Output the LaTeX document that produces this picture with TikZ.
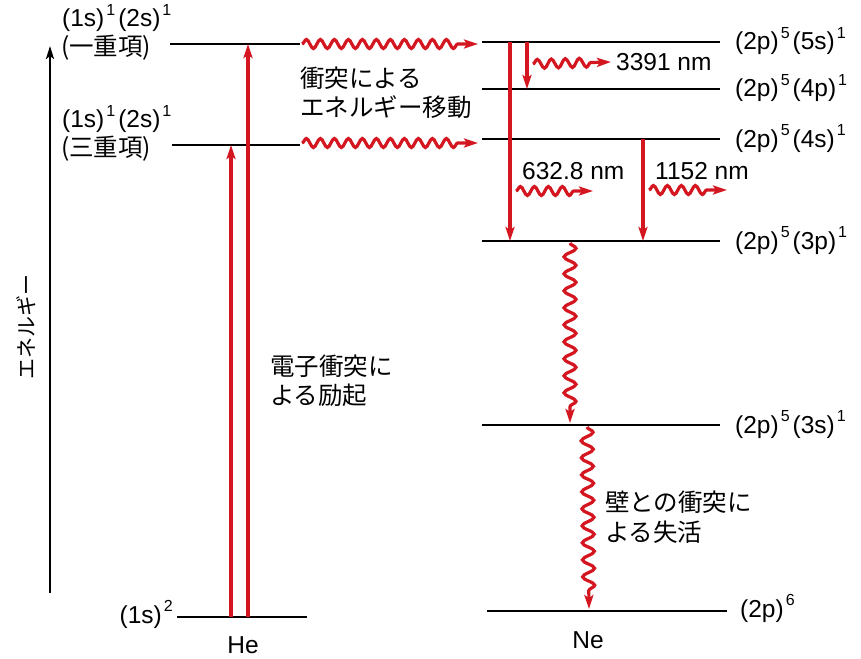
\documentclass[tikz,border=0pt]{standalone}
\usepackage{fontspec}
\setmainfont{Liberation Sans}
\newfontfamily\jp{Noto Sans CJK JP}
\usetikzlibrary{arrows.meta,decorations.pathmorphing}
\definecolor{myred}{RGB}{212,22,32}
\newcommand\su[1]{\kern2pt\raisebox{0.45em}{\fontsize{16}{16}\selectfont #1}\kern3pt}
\begin{document}
\begin{tikzpicture}[x=1pt,y=-1pt,
  level/.style={line width=2pt,black},
  tip/.style={-{Stealth[length=14pt,width=9pt,inset=3pt]}},
  redarr/.style={draw=myred,line width=3.3pt,tip},
  wavy/.style={draw=myred,line width=3.2pt,tip,decorate,
    decoration={snake,amplitude=4.5pt,segment length=14pt,post length=14pt}},
  swavy/.style={wavy,decoration={snake,amplitude=4.5pt,segment length=14pt,post length=18pt}},
  vwavy/.style={wavy,decoration={snake,amplitude=6pt,segment length=17pt,post length=14pt}},
  lab/.style={font=\fontsize{24.5}{28}\selectfont,inner sep=0pt},
  jlab/.style={font=\jp\fontsize{24.5}{28}\selectfont,inner sep=0pt},
]
\useasboundingbox (0,0) rectangle (861,658);

% energy axis
\coordinate (axb) at (50,593);
\coordinate (axt) at (50,46);
\draw[line width=2.4pt,black,-{Stealth[length=13pt,width=8pt,inset=3pt]}] (axb) -- (axt);
\node[jlab,rotate=90,font=\jp\fontsize{21}{24}\selectfont] (elab) at (26,327) {エネルギー};

% He levels
\coordinate (He1L) at (170,44);  \coordinate (He1R) at (300,44);
\coordinate (He3L) at (172,145); \coordinate (He3R) at (300,145);
\coordinate (HegL) at (177,617); \coordinate (HegR) at (307,617);
\draw[level] (He1L) -- (He1R);
\draw[level] (He3L) -- (He3R);
\draw[level] (HegL) -- (HegR);

\node[lab,anchor=base west] (l1a) at (62,27) {(1s)\su{1}(2s)\su{1}};
\node[jlab,anchor=base west] (l1b) at (61,56) {(一重項)};
\node[lab,anchor=base west] (l3a) at (62,128) {(1s)\su{1}(2s)\su{1}};
\node[jlab,anchor=base west] (l3b) at (61,156) {(三重項)};
\node[lab,anchor=base east] (lg) at (176,623) {(1s)\su{2}};
\node[lab,anchor=base] (He) at (243,653) {He};

% Ne levels
\coordinate (N5L) at (482,42);  \coordinate (N5R) at (720,42);
\coordinate (N4pL) at (482,89); \coordinate (N4pR) at (720,89);
\coordinate (N4sL) at (482,139);\coordinate (N4sR) at (720,139);
\coordinate (N3pL) at (482,241);\coordinate (N3pR) at (720,241);
\coordinate (N3sL) at (482,425);\coordinate (N3sR) at (720,425);
\coordinate (NgL) at (487,611); \coordinate (NgR) at (727,611);
\foreach \a/\b in {N5L/N5R,N4pL/N4pR,N4sL/N4sR,N3pL/N3pR,N3sL/N3sR,NgL/NgR}
  \draw[level] (\a) -- (\b);

\node[lab,anchor=base west] (n5) at (735,50) {(2p)\su{5}(5s)\su{1}};
\node[lab,anchor=base west] (n4p) at (735,97) {(2p)\su{5}(4p)\su{1}};
\node[lab,anchor=base west] (n4s) at (735,147) {(2p)\su{5}(4s)\su{1}};
\node[lab,anchor=base west] (n3p) at (735,249) {(2p)\su{5}(3p)\su{1}};
\node[lab,anchor=base west] (n3s) at (735,433) {(2p)\su{5}(3s)\su{1}};
\node[lab,anchor=base west] (ng) at (740,617) {(2p)\su{6}};
\node[lab,anchor=base] (Ne) at (588,648) {Ne};

% He excitation
\coordinate (ea1) at (231,617); \coordinate (ea2) at (231,145);
\coordinate (eb1) at (248,617); \coordinate (eb2) at (248,44);
\draw[redarr] (ea1) -- (ea2);
\draw[redarr] (eb1) -- (eb2);
\node[jlab,anchor=base west] (exc1) at (270,375) {電子衝突に};
\node[jlab,anchor=base west] (exc2) at (270,404) {よる励起};

% energy transfer
\coordinate (t1a) at (302,44); \coordinate (t1b) at (478,44);
\coordinate (t3a) at (302,143); \coordinate (t3b) at (478,143);
\draw[wavy] (t1a) -- (t1b);
\draw[wavy] (t3a) -- (t3b);
\node[jlab,anchor=base west] (tr1) at (300,88) {衝突による};
\node[jlab,anchor=base west] (tr2) at (300,117) {エネルギー移動};

% Ne transitions
\coordinate (a1) at (510,42); \coordinate (a2) at (510,241);
\coordinate (b1) at (527,42); \coordinate (b2) at (527,89);
\coordinate (c1) at (643,139); \coordinate (c2) at (643,241);
\draw[redarr] (a1) -- (a2);
\draw[redarr] (b1) -- (b2);
\draw[redarr] (c1) -- (c2);

\coordinate (w1a) at (533,64); \coordinate (w1b) at (611,62);
\draw[swavy] (w1a) -- (w1b);
\node[lab,anchor=base west] (nm1) at (616,71) {3391 nm};

\coordinate (w2a) at (516,191); \coordinate (w2b) at (593,191);
\draw[swavy] (w2a) -- (w2b);
\node[lab,anchor=base west] (nm2) at (522,179) {632.8 nm};

\coordinate (w3a) at (649,190); \coordinate (w3b) at (727,190);
\draw[swavy] (w3a) -- (w3b);
\node[lab,anchor=base west] (nm3) at (655,179) {1152 nm};

% relaxation
\coordinate (v1a) at (570,243); \coordinate (v1b) at (570,423);
\draw[vwavy] (v1a) -- (v1b);
\coordinate (v2a) at (587,427); \coordinate (v2b) at (589,609);
\draw[vwavy] (v2a) -- (v2b);
\node[jlab,anchor=base west] (wall1) at (605,511) {壁との衝突に};
\node[jlab,anchor=base west] (wall2) at (605,541) {よる失活};
\end{tikzpicture}
\end{document}
